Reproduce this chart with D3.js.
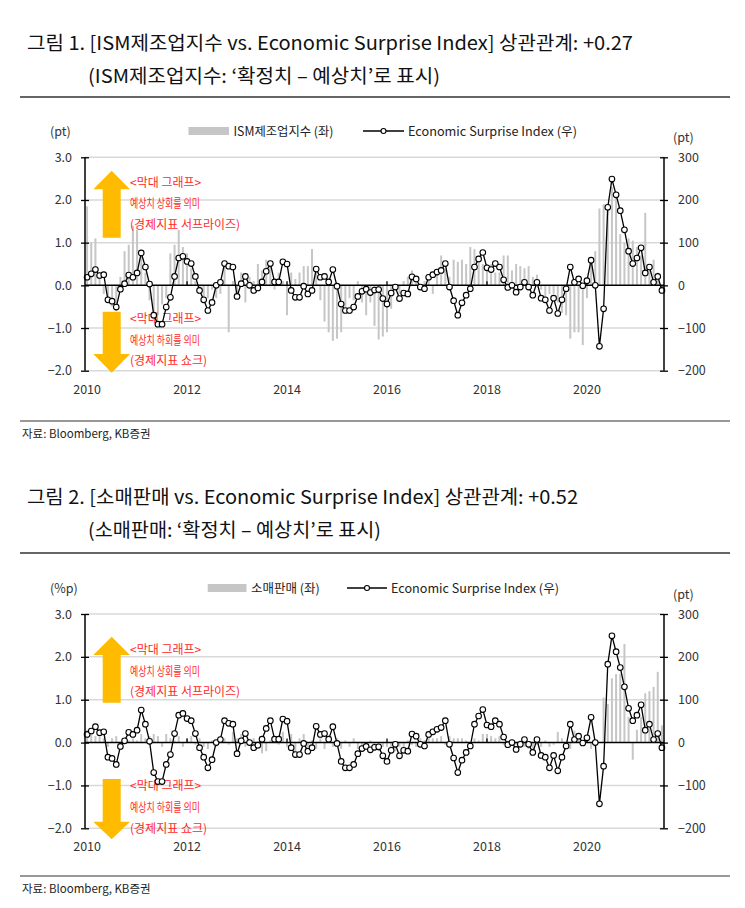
<!DOCTYPE html>
<html><head><meta charset="utf-8">
<script src="https://cdn.jsdelivr.net/npm/d3@7"></script>
<style>
body{margin:0;background:#fff;}
svg text{font-family:"Noto Sans CJK KR","Noto Sans",sans-serif;}
</style></head><body>
<svg id="c" width="745" height="908"></svg>
<script>
// ---------- DATA ----------
const months = d3.range(139).map(i => `${2010 + Math.floor(i / 12)}-${String(i % 12 + 1).padStart(2, "0")}`);
const yearTicks = ["2010-01","2012-01","2014-01","2016-01","2018-01","2020-01"];
const leftTicks = [3, 2, 1, 0, -1, -2];
const rightTicks = [300, 200, 100, 0, -100, -200];

const esi = [19,27,37,23,25,-34,-37,-51,-9,4,24,19,
  29,76,43,3,-70,-91,-91,-51,-28,21,64,68,
  56,51,21,-12,-34,-59,-40,0,7,51,45,43,
  -26,4,21,0,-12,-6,8,33,51,8,8,55,
  50,-12,-28,-28,-2,-20,-12,38,19,21,8,37,
  -2,-44,-59,-59,-51,-26,-14,-9,-17,-11,-10,-31,
  -44,-18,-4,-31,-18,-20,20,15,-4,-8,19,25,
  31,35,51,-4,-36,-70,-41,-23,-8,43,62,77,
  41,37,51,43,13,-5,0,-16,-4,7,-4,-23,
  7,-30,-34,-59,-30,-66,-34,-8,43,7,15,-1,
  11,59,0,-143,-55,183,249,212,175,130,80,51,
  64,88,29,43,7,21,-12];

const ism = [1.85,1.0,1.1,0.3,-0.2,-0.4,-0.5,-0.6,0.2,0.8,0.95,1.4,
  1.3,0.7,0.3,-0.35,-0.8,-0.7,-0.45,-0.3,0.75,0.95,1.3,0.9,
  0.75,0.4,0.1,-0.2,-0.4,-0.3,-0.1,-0.3,-0.2,0.5,-1.1,0.1,
  -0.2,0.3,-0.4,0.2,0.1,0.5,0.35,0.6,0.45,-0.1,0.3,0.1,
  -0.7,0.3,0.15,0.3,0.45,0.45,0.85,0.3,-0.35,-0.85,-1.1,-1.3,
  -1.25,-1.1,-0.5,-0.3,-0.35,0.1,-0.4,-0.7,-0.4,-0.95,-1.27,-1.2,
  -1.1,-0.55,0,-0.2,0.1,0.2,0.35,0.2,-0.1,0.1,0.15,-0.2,
  0.3,0.7,0.4,0.2,0.6,0.55,0.6,0.5,0.9,0.85,0.7,0.5,
  0.5,0.5,0.3,0.3,0.7,0.7,0.35,0.5,0.45,0.4,0.45,0.2,
  0.25,-0.1,-0.3,-0.2,-0.2,-0.4,-0.65,-0.7,-1.25,-1.1,-1.1,-1.4,
  -0.3,0.6,0.8,1.8,1.9,1.85,2.3,2.2,1.2,1.0,1.1,1.05,
  0.9,0.7,1.7,0.35,0.6,0.3,-0.1];

const retail = [0.3,0.25,0.15,0.2,0.1,-0.1,0.1,0.15,-0.05,0.1,0.05,0.1,
  0.05,0.2,0.1,0.15,0.2,0.15,-0.1,0.2,0.1,0.05,0.15,-0.1,
  0.1,0.15,-0.05,0.1,-0.1,-0.15,0.05,-0.1,0.15,0.1,-0.05,0.25,
  0.1,0.2,-0.1,0.05,0.1,-0.15,-0.25,-0.2,0.05,0.1,-0.05,0.25,
  -0.1,0.2,-0.2,0.1,0.2,-0.1,0.05,-0.15,0.1,-0.15,0.15,-0.1,
  0.1,-0.15,0.05,-0.1,0.1,-0.15,-0.15,-0.1,0.05,-0.15,-0.2,-0.1,
  -0.1,-0.15,-0.2,-0.1,-0.15,0.05,-0.05,-0.1,0.1,0.05,0.15,0.1,
  0.1,0.15,-0.05,0.15,0.1,0.1,0.1,0.05,-0.1,0.1,0.05,0.2,
  0.2,0.15,0.1,0.15,-0.05,0.05,-0.05,-0.05,0.05,-0.1,-0.15,-0.3,
  -0.05,-0.1,0.05,-0.1,-0.05,0.25,0.1,-0.05,-0.15,0.28,0.1,-0.05,
  0.05,-0.15,-0.1,0,1.05,0.9,1.5,1.6,1.6,2.3,0.6,-0.4,
  0.3,0.6,1.15,1.2,1.3,1.65,0.4];

// ---------- DRAW ----------
const svg = d3.select("#c");
svg.append("rect").attr("width",745).attr("height",908).attr("fill","#fff");

function fit(sel, w){
  const n = sel.node().getComputedTextLength();
  if (Math.abs(n - w) > 1) sel.attr("textLength", w).attr("lengthAdjust","spacingAndGlyphs");
  return sel;
}

const ORANGE = "#ffbb00", RED = "#ff2a2a", BAR = "#c6c6c6";

function drawChart(cfg){
  const g = svg.append("g");
  // titles
  fit(g.append("text").attr("x",27).attr("y",cfg.titleY).attr("font-size",19).attr("fill","#111").text(cfg.title), cfg.titleW);
  fit(g.append("text").attr("x",88).attr("y",cfg.titleY+33).attr("font-size",19).attr("fill","#111").text(cfg.sub), cfg.subW);
  g.append("line").attr("x1",20).attr("x2",730).attr("y1",cfg.ruleY).attr("y2",cfg.ruleY).attr("stroke","#333").attr("stroke-width",1.5);

  const x = d3.scaleBand().domain(months).range([85, 664]);
  const cx = d => x(d) + x.bandwidth()/2;
  const yL = d3.scaleLinear().domain([-2,3]).range([cfg.yBot, cfg.yTop]);
  const yR = d3.scaleLinear().domain([-200,300]).range([cfg.yBot, cfg.yTop]);

  // gridlines
  g.append("g").selectAll("line").data(leftTicks.filter(d=>d!==0)).join("line")
    .attr("x1",85).attr("x2",664).attr("y1",d=>yL(d)).attr("y2",d=>yL(d))
    .attr("stroke","#d9d9d9").attr("stroke-width",1.5);

  // bars
  g.append("g").selectAll("rect").data(cfg.bars).join("rect")
    .attr("x",(d,i)=>cx(months[i])-1).attr("width",2)
    .attr("y",d=>Math.min(yL(d),yL(0))).attr("height",d=>Math.abs(yL(d)-yL(0)))
    .attr("fill",BAR);

  // zero line
  g.append("line").attr("x1",85).attr("x2",664).attr("y1",yL(0)).attr("y2",yL(0)).attr("stroke","#000").attr("stroke-width",1.5);
  g.append("g").selectAll("line").data(yearTicks.slice(1)).join("line")
    .attr("x1",d=>cx(d)).attr("x2",d=>cx(d)).attr("y1",yL(0)).attr("y2",yL(0)-4)
    .attr("stroke","#000").attr("stroke-width",1.3);

  // annotation arrows
  const ax = 111.7, a = cfg.ann;
  g.append("path").attr("fill",ORANGE).attr("d",
    `M${ax},${a.upTip} L130,${a.upBase} L120.7,${a.upBase} L120.7,${a.upBot} L102.7,${a.upBot} L102.7,${a.upBase} L93.3,${a.upBase} Z`);
  g.append("path").attr("fill",ORANGE).attr("d",
    `M102.7,${a.dnTop} L120.7,${a.dnTop} L120.7,${a.dnBase} L130,${a.dnBase} L${ax},${a.dnTip} L93.3,${a.dnBase} L102.7,${a.dnBase} Z`);
  const annTexts = [
    ["<막대 그래프>", a.t[0], 72], ["예상치 상회를 의미", a.t[1], 70], ["(경제지표 서프라이즈)", a.t[2], 110],
    ["<막대 그래프>", a.t[3], 72], ["예상치 하회를 의미", a.t[4], 70], ["(경제지표 쇼크)", a.t[5], 77]];
  annTexts.forEach(([t,y,w]) => fit(g.append("text").attr("x",130).attr("y",y+4.5).attr("font-size",12).attr("fill",RED).text(t), w));

  // ESI line
  const line = d3.line().x((d,i)=>cx(months[i])).y(d=>yR(d));
  g.append("path").datum(esi).attr("d",line).attr("fill","none").attr("stroke","#000").attr("stroke-width",1.3);
  g.append("g").selectAll("circle").data(esi).join("circle")
    .attr("cx",(d,i)=>cx(months[i])).attr("cy",d=>yR(d)).attr("r",2.8)
    .attr("fill","#fff").attr("stroke","#000").attr("stroke-width",1.1);

  // axes
  const axL = g.append("g").attr("transform","translate(85,0)")
    .call(d3.axisLeft(yL).tickValues(leftTicks).tickFormat(d3.format(".1f")).tickSize(4).tickPadding(10));
  const axR = g.append("g").attr("transform","translate(664,0)")
    .call(d3.axisRight(yR).tickValues(rightTicks).tickSize(4).tickPadding(10));
  [axL, axR].forEach(ax => {
    ax.select(".domain").remove();
    ax.append("line").attr("y1",cfg.yTop).attr("y2",cfg.yBot).attr("stroke","#000").attr("stroke-width",1.5);
    ax.selectAll(".tick line").attr("x1",-4).attr("x2",4).attr("stroke","#000").attr("stroke-width",1.3);
    ax.selectAll(".tick text").attr("font-size",12.5).attr("fill","#333").attr("font-family",'"Noto Sans CJK KR","Noto Sans",sans-serif');
  });
  axL.selectAll(".tick text").attr("x",-13);
  axR.selectAll(".tick text").attr("x",14);

  const axB = g.append("g").attr("transform",`translate(0,${cfg.yBot})`)
    .call(d3.axisBottom(x).tickValues(yearTicks).tickFormat(d=>d.slice(0,4)).tickSize(0).tickPadding(14));
  axB.select(".domain").remove();
  axB.selectAll(".tick text").attr("font-size",12.5).attr("fill","#333").attr("font-family",'"Noto Sans CJK KR","Noto Sans",sans-serif');

  // legend
  const ly = cfg.legY;
  g.append("text").attr("x",50).attr("y",ly+5).attr("font-size",12.5).attr("fill","#333").text(cfg.leftUnit);
  g.append("text").attr("x",673).attr("y",ly+11).attr("font-size",12.5).attr("fill","#333").text("(pt)");
  g.append("rect").attr("x",cfg.sw[0]).attr("y",ly-4).attr("width",cfg.sw[1]-cfg.sw[0]).attr("height",8).attr("fill",BAR);
  fit(g.append("text").attr("x",cfg.sw[1]+4.5).attr("y",ly+4.5).attr("font-size",12.5).attr("fill","#222").text(cfg.barName), cfg.barNameW);
  g.append("line").attr("x1",cfg.ln[0]).attr("x2",cfg.ln[1]).attr("y1",ly).attr("y2",ly).attr("stroke","#000").attr("stroke-width",1.3);
  g.append("circle").attr("cx",(cfg.ln[0]+cfg.ln[1])/2).attr("cy",ly).attr("r",2.5).attr("fill","#fff").attr("stroke","#000").attr("stroke-width",1.1);
  fit(g.append("text").attr("x",cfg.ln[1]+4).attr("y",ly+4.5).attr("font-size",12.5).attr("fill","#222").text("Economic Surprise Index (우)"), cfg.esiW);

  // source
  g.append("line").attr("x1",20).attr("x2",730).attr("y1",cfg.srcRule).attr("y2",cfg.srcRule).attr("stroke","#333").attr("stroke-width",1.2);
  g.append("text").attr("x",22).attr("y",cfg.srcRule+17).attr("font-size",11.5).attr("fill","#222").text("자료: Bloomberg, KB증권");
}

drawChart({
  title:"그림 1. [ISM제조업지수 vs. Economic Surprise Index] 상관관계: +0.27", titleW:606, titleY:50,
  sub:"(ISM제조업지수: ‘확정치 – 예상치’로 표시)", subW:352, ruleY:97,
  yTop:157.3, yBot:370.7, bars:ism, leftUnit:"(pt)", barName:"ISM제조업지수 (좌)", barNameW:100,
  sw:[188.5,229], ln:[363,404], esiW:169, legY:131, srcRule:421,
  ann:{upTip:170.7, upBase:189.3, upBot:237.7, dnTop:311.7, dnBase:354, dnTip:372.7,
       t:[182.3,203.3,224,318.3,340.7,360.7]}
});
drawChart({
  title:"그림 2. [소매판매 vs. Economic Surprise Index] 상관관계: +0.52", titleW:551, titleY:504,
  sub:"(소매판매: ‘확정치 – 예상치’로 표시)", subW:293, ruleY:553,
  yTop:614, yBot:828.3, bars:retail, leftUnit:"(%p)", barName:"소매판매 (좌)", barNameW:69,
  sw:[207.7,246.5], ln:[347,387], esiW:168, legY:588, srcRule:876,
  ann:{upTip:636.7, upBase:655, upBot:702.7, dnTop:779, dnBase:821.7, dnTip:839.3,
       t:[649.3,671,691.7,785.7,807.7,828.3]}
});
</script>
</body></html>
